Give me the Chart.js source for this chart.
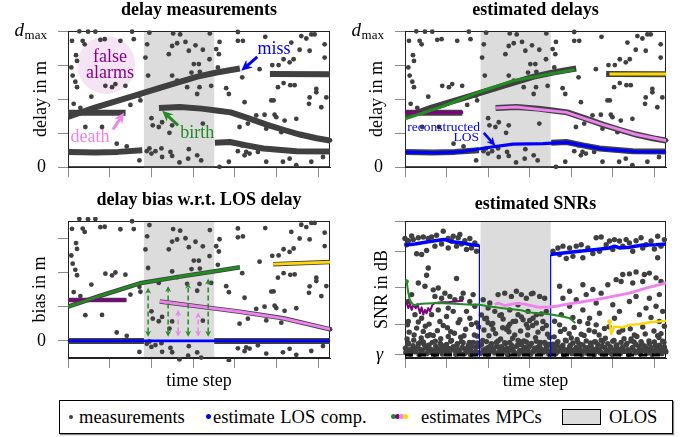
<!DOCTYPE html>
<html><head><meta charset="utf-8">
<script src="https://cdn.jsdelivr.net/npm/chart.js@4"></script>
<style>
html,body{margin:0;padding:0;background:#fff;width:686px;height:437px;overflow:hidden;position:relative;font-family:"Liberation Serif","Times New Roman",serif}
canvas{position:absolute}
#legend{position:absolute;left:59px;top:400px;width:612px;height:32px;border:1px solid #000;box-shadow:1px 1px 1px #888;background:#fff;font-family:"Liberation Serif","Times New Roman",serif;font-size:18.5px;color:#000}
.li{position:absolute;top:0;height:32px;line-height:32px;white-space:nowrap;word-spacing:1px}
.dot{position:absolute;border-radius:50%}
</style></head><body>
<canvas id="cTL" width="343" height="190" style="left:0;top:0"></canvas>
<canvas id="cTR" width="343" height="190" style="left:343px;top:0"></canvas>
<canvas id="cBL" width="343" height="205" style="left:0;top:190px"></canvas>
<canvas id="cBR" width="343" height="205" style="left:343px;top:190px"></canvas>
<div id="legend">
  <span class="dot" style="left:9px;top:14px;width:4px;height:4px;background:#404040"></span>
  <span class="li" style="left:19px">measurements</span>
  <span class="dot" style="left:146px;top:13px;width:5px;height:5px;background:#0000ff"></span>
  <span class="li" style="left:153px">estimate LOS comp.</span>
  <span class="dot" style="left:331px;top:13px;width:5px;height:5px;background:#228b22"></span>
  <span class="dot" style="left:335px;top:13px;width:5px;height:5px;background:#800080"></span>
  <span class="dot" style="left:339px;top:13px;width:5px;height:5px;background:#ee82ee"></span>
  <span class="dot" style="left:343px;top:13px;width:5px;height:5px;background:#ffd700"></span>
  <span class="li" style="left:361px">estimates MPCs</span>
  <span style="position:absolute;left:502px;top:8px;width:37px;height:14px;background:#dcdcdc;border:1px solid #000"></span>
  <span class="li" style="left:549px">OLOS</span>
</div>
<script>
// ---------- data ----------
const timeTicks = [0, 50, 100, 150, 200, 250, 300];
const tMax = 314;
const olosRange = [91, 175.3];
const delayTicks = [0, 1, 2, 3, 4];
const biasTicks = [0, 1, 2, 3];
const gamma = 1.55;
const snrTicks = [gamma, 10, 20, 30, 38.3];

// clutter measurements (time step, delay)
const delayClutter = [
[13.6,3.99],[24,3.98],[32.8,3.98],[4.8,3.71],[17.6,3.71],[20,3.61],[38.8,3.74],[44,3.76],[62.8,3.71],[76.8,3.98],[78.8,3.76],[97.6,3.95],
[9.6,3.29],[10.8,3.12],[4,2.93],[5.6,2.69],[8.8,2.51],[10.8,2.35],[44.8,2.39],[52.8,2.35],[56.8,2.44],[68.8,2.39],[28,2.07],[6.8,1.86],[14.8,1.74],[85.6,2.1],[86.8,1.96],[74.8,1.83],
[94.8,3.61],[92.8,3.22],[96,2.69],[120.8,3.32],[124.8,3.56],[130.8,3.64],[140.8,3.68],[144.8,3.42],[152.8,3.58],[150.8,3.03],[156.8,3.03],[148,2.78],[158,2.8],[124.8,2.69],[130.8,2.54],[142.8,2.35],[154.8,2.15],[108.8,2.3],[126,3.93],[134.4,3.9],[170,3.93],
[100,1.44],[101.6,1.23],[108.8,1.18],[121.6,1.01],[124.8,1.23],[112.8,1.32],[20.8,1.18],[40.8,1.18],
[97.6,0.55],[100,0.4],[104.8,0.47],[112,0.55],[112.8,0.3],[122.8,0.45],[124.8,0.33],[133.6,0.14],[144.8,0.53],[144,0.25],[154.8,0.35],[85.6,0.2],[58.4,0.69],[70.4,0.61],[94.4,0.47],
[203.6,3.97],[236.4,3.83],[203.6,3.71],[209.6,3.71],[181.6,3.68],[161.6,3.45],[177.6,3.47],[180.8,3.32],[169.6,3.17],[179.6,2.93],[229.6,2.88],
[244.8,3.0],[252.4,3.0],[258.4,3.17],[265.6,3.08],[270.4,3.17],[267.6,3.66],[277.6,3.45],[279.6,3.85],[285.6,3.78],[291.6,3.9],[295.6,3.9],[307.6,3.61],[307.6,3.22],[289.6,3.42],
[208.8,2.64],[157.6,2.35],[171.6,2.39],[189.6,2.32],[192.8,2.15],[211.6,1.91],[243.6,1.96],[246.4,1.96],[251.6,2.35],[258.4,2.47],[266.4,2.41],[271.6,2.41],[289.6,2.05],[297.6,2.3],[297.6,2.2],[309.6,2.05],[303.6,1.76],[288.8,1.86],
[225.6,1.52],[235.6,1.54],[247.6,1.54],[249.6,1.47],[259.6,1.37],[273.6,1.42],[205.6,1.18],[215.6,1.28],[237.6,1.13],[255.6,1.03],[161.6,1.28],
[208.8,0.64],[213.6,0.45],[217.6,0.4],[211.6,0.35],[203.6,0.47],[227.6,0.45],[237.6,0.16],[257.6,0.16],[265.6,0.25],[273.6,0.06],[291.6,0.16],[305.6,0.3],[159.6,0.2],[192.8,0.16],[181.6,0.01],[314,0.79]
];

// measurement tracks (dense detections)
const trackRising = [[0,1.48],[33,1.76],[73,2.05],[113,2.35],[155,2.66],[178,2.78],[206,2.9]];
const trackFlat = [[0,1.6],[69,1.6]];
const trackRight = [[242,2.74],[314,2.73]];
const trackBirth = [[109,1.74],[134,1.77],[160,1.72],[180,1.66],[195,1.61],[215,1.45],[238,1.25],[258,1.1],[278,0.96],[298,0.85],[314,0.78]];
const trackLos1 = [[0,0.45],[33,0.43],[60,0.45],[89,0.5]];
const trackLos2 = [[176,0.72],[194,0.74],[214,0.64],[234,0.55],[274,0.47],[314,0.46]];

// estimated delays
const estLos = [[0,0.44],[38,0.42],[70,0.46],[98,0.57],[130,0.68],[166,0.69],[194,0.73],[214,0.64],[238,0.53],[278,0.46],[314,0.45]];
const estGreen = [[0,1.42],[46,1.79],[86,2.18],[130,2.54],[174,2.74],[204,2.86]];
const estPurple = [[0,1.61],[70,1.61]];
const estPink = [[109,1.74],[134,1.77],[194,1.61],[238,1.25],[278,0.96],[314,0.78]];
const estYellow = [[246,2.74],[314,2.74]];

// delay bias w.r.t. LOS delay
const biasGreen = [[0,1.0],[38,1.31],[86,1.68],[138,1.89],[178,2.04],[206,2.15]];
const biasPurple = [[0,1.19],[70,1.19]];
const biasPink = [[110,1.15],[158,1.0],[206,0.85],[258,0.66],[314,0.34]];
const biasYellow = [[246,2.24],[314,2.3]];
const biasLos = [[0,0],[314,0]];
const biasLosMeas1 = [[0,0],[91,0]];
const biasLosMeas2 = [[175.3,0],[314,0]];
const biasArrowsGreen = [[96,0.12,1.55],[120,0.12,1.6],[144,0.12,1.7],[168,0.12,1.82]];
const biasArrowsPink = [[132,0.12,0.9],[156,0.12,0.83]];

// estimated SNRs
const snrLos1 = [[0,31.7],[12,32.0],[28,32.6],[40,33.0],[48,33.2],[56,32.6],[68,32.3],[80,31.8],[89.5,31.6]];
const snrLos2 = [[175.2,29.1],[190,29.5],[210,30.0],[230,30.5],[246,30.9],[252,31.4],[258,30.9],[270,31.1],[286,31.7],[302,31.8],[314,32.0]];
const snrLosDrop1 = [[89.5,31.6],[89.5,-5]];
const snrLosDrop2 = [[175.2,-5],[175.2,29.1]];
const snrGreen = [[2,21.7],[4,18.5],[6,16.5],[10,15.2],[20,15.6],[40,15.8],[60,15.6],[80,15.3],[88,15.4],[100,14.9],[120,14.3],[140,13.8],[150,13.2],[174,12.7],[190,12.1],[198,11.6],[205,10.3]];
const snrPurple = [[2,15.8],[4,14.4],[6,15.5],[8,13.9],[10,15.3],[13,14.4],[15,15.5],[18,13.0],[20,14.6],[22,12.6],[24,13.9],[26,13.0],[28,14.4],[30,13.5],[33,15.3],[36,15.8],[44,16.0],[52,16.0],[60,16.2],[70,16.4]];
const snrPink = [[108,15.3],[112,15.8],[120,15.1],[128,15.5],[136,15.7],[144,15.5],[156,14.9],[162,14.6],[174,14.7],[182,14.9],[190,15.3],[210,16.0],[230,16.7],[250,17.6],[270,18.5],[290,19.9],[314,21.3]];
const snrYellow = [[246,10.7],[248,7.3],[252,9.3],[262,9.1],[270,9.8],[282,10.0],[294,10.5],[314,10.9]];
const snrThreshold = [[0,gamma],[314,gamma]];

const snrClutterLos = [
[0,33.5],[4,32.9],[10,33.2],[16,33.7],[22,33.9],[28,33.5],[32,33.9],[38,34.4],[46,35.5],[52,33.5],[58,34.1],[64,33.7],[68,32.0],[72,32.9],[78,33.5],[84,32.3],[14,29.3],[20,29.1],[52,30.9],[62,31.4],[74,30.5],[2,31.8],[36,31.4],[44,32.0],[80,30.9],[86,30.0],[8,34.2],[26,30.2],[56,32.8],[66,34.6],
[178,30.0],[184,30.9],[190,31.4],[198,30.9],[206,31.4],[212,31.8],[214,28.2],[220,30.9],[230,33.7],[236,33.9],[246,32.8],[252,33.2],[258,32.8],[266,33.2],[270,32.3],[278,32.9],[284,33.7],[290,31.8],[296,32.8],[304,34.1],[308,31.4],[312,33.2],[234,30.0],[250,30.5],[274,30.0],[304,28.2],[202,28.6],[186,29.1],[242,31.8],[262,31.4],[286,30.9],[194,28.0],[226,29.4],[300,30.6]
];
const snrClutterMid = [
[28,25.4],[26,23.4],[62,22.5],[16,21.3],[24,20.4],[34,19.4],[40,19.9],[48,18.5],[70,18.5],[82,18.1],[36,17.6],[44,17.1],[54,17.6],[60,16.7],[68,17.1],[78,16.2],[8,18.1],[4,16.2],[52,14.4],[58,13.5],[74,13.5],[84,14.9],[12,12.6],[20,11.6],[32,12.6],[42,10.7],[50,12.1],[66,11.2],[78,11.6],[86,10.3],[4,10.7],[40,13.9],
[94,16.7],[102,15.8],[112,18.1],[120,18.5],[128,17.6],[134,19.0],[140,18.1],[146,17.1],[152,18.3],[108,13.5],[116,12.6],[126,13.9],[136,12.6],[148,13.5],[98,11.6],[130,10.7],[142,11.2],[154,11.6],[104,9.8],[124,9.3],[136,15.3],[100,14.4],[154,18.5],[162,17.6],[168,17.1],[158,12.6],[166,10.7],[170,13.5],
[262,23.6],[270,23.8],[278,24.3],[288,23.6],[294,24.0],[302,22.7],[254,22.2],[244,20.8],[260,21.7],[274,21.3],[286,21.7],[308,21.7],[186,20.4],[198,19.0],[214,20.8],[226,19.5],[236,18.5],[190,17.1],[206,16.7],[218,18.1],[230,15.8],[250,15.3],[270,16.2],[278,17.6],[294,17.1],[306,18.1],[198,14.9],[214,13.9],[234,13.0],[258,13.5],[290,14.4],[302,14.9],[188,12.6],[222,11.6],[230,9.8],[282,12.6],[310,13.5],[186,9.8],[210,10.7],[306,10.7]
];
const snrClutterLowMid = [
[3,9.8],[11,7.0],[16,10.6],[22,8.0],[29,10.0],[34,6.9],[46,9.6],[55,7.9],[64,10.4],[71,6.8],[80,9.9],[87,6.7],
[92,12.5],[100,10.4],[106,8.6],[118,11.4],[126,10.0],[132,7.0],[140,12.0],[148,9.0],[158,10.3],[164,12.8],[170,9.6],[174,6.4],
[180,10.8],[192,8.6],[202,11.8],[212,7.2],[220,10.2],[228,7.9],[240,8.8],[252,11.6],[262,8.4],[276,7.0],[286,9.2],[296,11.8],[304,6.8],[312,9.4]
];
const snrClutterLow = [
[1,2.2],[3.5,4.5],[5,7.8],[6.5,1.8],[8,3.1],[10.5,5.6],[12,2.4],[14,8.9],[15.5,3.8],[17,1.6],[19.5,6.2],[21,2.9],[23,4.4],[24.5,9.4],[26,1.9],[28.5,3.4],[30,7.1],[31.5,2.2],[33,5.0],[35.5,1.7],[37,3.9],[39,8.2],[41.5,2.6],[43,6.0],[45,1.8],[47.5,4.1],[49,2.9],[51,9.0],[53.5,2.1],[55,5.3],[57,3.3],[59.5,7.5],[61,1.7],[63,4.6],[65.5,2.5],[67,6.4],[69,3.6],[71.5,1.9],[73,8.6],[75,2.8],[77.5,5.0],[79,1.6],[81,3.9],[83.5,7.0],[85,2.3],[87,4.8],[88.5,9.2],
[2.5,5.9],[9,2.7],[18,4.9],[27,6.8],[36,2.5],[44,3.5],[52,6.6],[60,2.8],[68,5.2],[76,3.9],[84,1.9],
[91,2.0],[93.5,5.5],[95,8.4],[97,3.2],[99.5,1.7],[101,6.8],[103,4.0],[105.5,10.2],[107,2.6],[109,7.4],[111.5,3.8],[113,1.9],[115,5.9],[117.5,9.0],[119,2.9],[121,4.7],[123.5,1.6],[125,7.9],[127,3.5],[129.5,6.1],[131,2.2],[133,10.8],[135.5,4.3],[137,1.8],[139,8.1],[141.5,3.0],[143,5.4],[145,2.1],[147.5,7.0],[149,4.0],[151,1.7],[153.5,9.6],[155,2.7],[157,6.3],[159.5,3.6],[161,1.9],[163,5.0],[165.5,8.8],[167,2.4],[169,4.6],[171.5,7.2],[173,1.8],
[96,11.5],[110,5.0],[122,8.6],[138,5.2],[150,11.0],[160,7.8],[172,4.2],[114,12.4],[128,2.9],[146,9.9],
[177,3.3],[179.5,6.5],[181,1.8],[183,4.9],[185.5,2.6],[187,8.0],[189,3.7],[191.5,1.6],[193,5.6],[195,2.9],[197.5,7.4],[199,4.2],[201,1.9],[203.5,9.1],[205,3.1],[207,5.8],[209.5,2.2],[211,4.4],[213,1.7],[215.5,6.9],[217,3.5],[219,2.0],[221.5,8.3],[223,4.8],[225,2.7],[227.5,1.6],[229,5.2],[231,3.3],[233.5,7.0],[235,2.1],[237,4.0],[239.5,1.8],[241,6.1],[243,2.9],[245.5,9.3],[247,3.8],[249,1.7],[251.5,5.5],[253,2.4],[255,4.3],[257.5,7.8],[259,1.9],[261,3.2],[263.5,6.0],[265,2.6],[267,4.7],[269.5,1.6],[271,8.7],[273,3.4],[275.5,5.1],[277,2.1],[279,6.6],[281.5,3.9],[283,1.8],[285,4.6],[287.5,2.8],[289,7.3],[291,2.0],[293.5,5.4],[295,3.1],[297,1.7],[299.5,8.1],[301,4.2],[303,2.5],[305.5,6.3],[307,3.6],[309,1.9],[311.5,5.0],[313,2.8],
[182,4.0],[200,6.2],[218,2.8],[236,5.6],[254,3.1],[272,5.9],[290,3.5],[308,7.4]
];
const snrClutterBand = [
[0.5,3.4],[2,2.6],[4,4.8],[5.5,3.0],[7,2.1],[9.5,4.1],[11,3.3],[13,2.5],[16,4.6],[18.5,3.0],[20,2.3],[22,5.1],[25,3.6],[27.5,2.4],[29,4.3],[32,3.0],[34,2.2],[36.5,5.3],[38,3.5],[40,2.4],[42.5,4.7],[46,3.1],[48,2.2],[50,4.4],[52.5,3.3],[54,2.5],[56,5.5],[58,3.8],[61,2.6],[62.5,4.2],[64,3.0],[66,2.0],[70,4.9],[72,3.2],[74,2.3],[76.5,4.3],[78,3.5],[80,2.5],[82,5.0],[85,3.6],[87,2.2],[89,3.9],
[92,4.4],[94,2.9],[96,2.2],[98,5.2],[100,3.6],[102,2.4],[104,4.6],[106,3.2],[108,2.1],[110,3.9],[112,5.4],[114,2.7],[116,3.8],[118,2.2],[120,4.9],[122,3.3],[124,2.6],[126,5.0],[128,4.2],[130,3.0],[132,2.1],[134,3.9],[136,5.5],[138,2.8],[140,4.4],[142,2.3],[144,3.6],[146,5.1],[148,2.7],[150,3.9],[152,4.7],[154,2.4],[156,3.4],[158,5.3],[160,2.8],[162,4.2],[164,3.1],[166,2.2],[168,5.0],[170,3.5],[172,2.6],[174,4.4],
[176,2.4],[178,4.5],[180,3.0],[182.5,2.2],[184,5.2],[186,3.7],[188,2.6],[190,4.2],[192,3.0],[194,5.4],[196,2.3],[198,3.8],[200,2.9],[202,4.8],[204,2.2],[206,3.6],[208,5.0],[210,3.2],[212,2.4],[214,4.3],[216,2.9],[218,5.4],[220,3.5],[222,2.3],[224,4.0],[226,3.1],[228,5.1],[230,2.5],[232,4.4],[234,3.0],[236,2.2],[238,5.2],[240,3.6],[242,2.6],[244,4.6],[246,2.2],[248,3.4],[250,5.3],[252,2.8],[254,4.1],[256,3.2],[258,2.3],[260,5.0],[262,3.7],[264,2.5],[266,4.3],[268,3.0],[270,2.2],[272,5.4],[274,3.6],[276,2.7],[278,4.4],[280,2.4],[282,3.3],[284,5.2],[286,2.8],[288,4.0],[290,3.1],[292,2.2],[294,4.7],[296,3.5],[298,2.5],[300,5.1],[302,3.3],[304,2.3],[306,4.2],[308,2.9],[310,5.3],[312,3.7],[314,2.4]
];

// ---------- helpers ----------
const FAMILY = '"Liberation Serif","Times New Roman",serif';
const C = {dark:'#404040', blue:'#0000ff', green:'#228b22', purple:'#800080', pink:'#ee82ee', yellow:'#ffd700'};
Chart.defaults.font.family = FAMILY;
Chart.defaults.color = '#000';

const pts = arr => arr.map(([x, y]) => ({x, y}));
function losAt(t) {
  for (let i = 1; i < estLos.length; i++) {
    const [t0, d0] = estLos[i - 1], [t1, d1] = estLos[i];
    if (t <= t1) return d0 + (d1 - d0) * (t - t0) / (t1 - t0);
  }
  return estLos[estLos.length - 1][1];
}
const biasClutter = delayClutter.map(([t, d]) => [t, d - losAt(t)]);

function line(data, color, width, order, extra) {
  return Object.assign({type:'line', data:pts(data), borderColor:color, borderWidth:width, pointRadius:0,
    fill:false, tension:0, order, borderCapStyle:'butt', borderJoinStyle:'round'}, extra || {});
}
function dots(data, order, r) {
  return {type:'scatter', data:pts(data), pointRadius:r || 2.4, pointBackgroundColor:C.dark, pointBorderWidth:0,
    pointHoverRadius:0, order, clip:4};
}

function drawHead(ctx, x, y, ang, hl, hw) {
  const c = Math.cos(ang), s = Math.sin(ang);
  ctx.beginPath();
  ctx.moveTo(x, y);
  ctx.lineTo(x - hl * c + hw / 2 * s, y - hl * s - hw / 2 * c);
  ctx.lineTo(x - 0.7 * hl * c, y - 0.7 * hl * s);
  ctx.lineTo(x - hl * c - hw / 2 * s, y - hl * s + hw / 2 * c);
  ctx.closePath();
  ctx.fill();
}
function drawArrow(ctx, x0, y0, x1, y1, o) {
  const ang = Math.atan2(y1 - y0, x1 - x0), c = Math.cos(ang), s = Math.sin(ang);
  ctx.strokeStyle = o.color; ctx.fillStyle = o.color; ctx.lineWidth = o.lw;
  ctx.setLineDash(o.dash || []);
  const sx = o.both ? x0 + c * o.hl * 0.7 : x0, sy = o.both ? y0 + s * o.hl * 0.7 : y0;
  ctx.beginPath(); ctx.moveTo(sx, sy); ctx.lineTo(x1 - c * o.hl * 0.7, y1 - s * o.hl * 0.7); ctx.stroke();
  ctx.setLineDash([]);
  drawHead(ctx, x1, y1, ang, o.hl, o.hw);
  if (o.both) drawHead(ctx, x0, y0, ang + Math.PI, o.hl, o.hw);
}

function decoPlugin(cfg) {
  return {
    id: 'deco',
    beforeDatasetsDraw(chart) {
      const {ctx, chartArea: a, scales: {x, y}} = chart;
      ctx.save();
      if (cfg.olos) {
        const x0 = x.getPixelForValue(cfg.olos[0]), x1 = x.getPixelForValue(cfg.olos[1]);
        ctx.fillStyle = '#dcdcdc';
        ctx.fillRect(x0, a.top, x1 - x0, a.bottom - a.top);
      }
      (cfg.circles || []).forEach(c => {
        ctx.beginPath();
        ctx.arc(x.getPixelForValue(c.x), y.getPixelForValue(c.y), c.r, 0, 2 * Math.PI);
        ctx.fillStyle = c.color; ctx.fill();
      });
      ctx.strokeStyle = '#222'; ctx.lineWidth = 1;
      ctx.strokeRect(a.left + 0.5, a.top + 0.5, a.right - a.left - 1, a.bottom - a.top - 1);
      ctx.restore();
    },
    afterDatasetsDraw(chart) {
      const {ctx, scales: {x, y}} = chart;
      ctx.save();
      (cfg.arrows || []).forEach(ar => {
        drawArrow(ctx, x.getPixelForValue(ar.from[0]), y.getPixelForValue(ar.from[1]),
          x.getPixelForValue(ar.to[0]), y.getPixelForValue(ar.to[1]), ar);
      });
      (cfg.vArrows || []).forEach(g => {
        g.data.forEach(([t, y0, y1]) => {
          const px = x.getPixelForValue(t);
          drawArrow(ctx, px, y.getPixelForValue(y0), px, y.getPixelForValue(y1), g);
        });
      });
      (cfg.texts || []).forEach(tx => {
        ctx.font = (tx.style ? tx.style + ' ' : '') + tx.size + 'px ' + FAMILY;
        ctx.fillStyle = tx.color; ctx.textAlign = tx.align || 'center'; ctx.textBaseline = 'middle';
        ctx.fillText(tx.text, x.getPixelForValue(tx.x), y.getPixelForValue(tx.y));
      });
      ctx.restore();
    },
    afterDraw(chart) {
      if (cfg.dmax === undefined) return;
      const {ctx, chartArea: a, scales: {y}} = chart;
      const yy = y.getPixelForValue(cfg.dmax), xr = a.left - 21;
      ctx.save();
      ctx.fillStyle = '#000'; ctx.textAlign = 'right'; ctx.textBaseline = 'alphabetic';
      ctx.font = '13px ' + FAMILY;
      ctx.fillText('max', xr, yy + 8);
      const w = ctx.measureText('max').width;
      ctx.font = 'italic 19px ' + FAMILY;
      ctx.fillText('d', xr - w - 0.5, yy + 5);
      ctx.restore();
    }
  };
}

function makeChart(id, o) {
  const gridOpts = {drawOnChartArea:false, drawTicks:true, tickLength:10, color:'#8c8c8c', lineWidth:1};
  return new Chart(document.getElementById(id), {
    type: 'scatter',
    data: {datasets: o.datasets},
    plugins: [decoPlugin(o.deco)],
    options: {
      responsive:false, animation:false, events:[],
      layout:{padding:{left:0, right:o.padRight, top:0, bottom:0}},
      plugins:{
        legend:{display:false}, tooltip:{enabled:false},
        title:{display:true, text:o.title, fullSize:false, color:'#000',
          font:{size:18, weight:'bold'}, padding:{top:o.titleTop, bottom:9.4 - o.titleTop}}
      },
      scales:{
        x:{type:'linear', min:0, max:tMax,
          afterBuildTicks: s => { s.ticks = timeTicks.map(v => ({value:v})); },
          ticks:{display:false}, grid:gridOpts, border:{display:true, color:'#222'},
          title:{display:!!o.xTitle, text:o.xTitle || '', color:'#000', font:{size:18}, padding:{top:0, bottom:2.5}},
          afterFit: s => { s.height = o.xH; }},
        y:{type:'linear', min:o.yMin, max:o.yMax,
          afterBuildTicks: s => { s.ticks = o.yTicks.map(v => ({value:v})); },
          ticks:{autoSkip:false, padding:12, color:'#000', font:{size:18, style:o.tickStyle || 'normal'}, callback:o.tickCb},
          grid:gridOpts, border:{display:true, color:'#222'},
          title:{display:true, text:o.yTitle, color:'#000', font:{size:18}, padding:{top:o.yTitlePad, bottom:0}},
          afterFit: s => { s.width = o.yW; }}
      }
    }
  });
}

const zeroLabel = v => (Math.abs(v) < 1e-9 ? '0' : '');
const trackSets = (order) => [
  line(trackRising, C.dark, 6, order), line(trackFlat, C.dark, 6, order), line(trackRight, C.dark, 6, order),
  line(trackBirth, C.dark, 6, order), line(trackLos1, C.dark, 6, order), line(trackLos2, C.dark, 6, order)
];

// ---------- top-left: delay measurements ----------
makeChart('cTL', {
  title:'delay measurements', titleTop:0, padRight:13, xH:22, yW:68, yTitlePad:30,
  yMin:0, yMax:4, yTicks:delayTicks, tickCb:zeroLabel, yTitle:'delay in m',
  datasets:[dots(delayClutter, 10), ...trackSets(9)],
  deco:{olos:olosRange, dmax:4,
    circles:[{x:46, y:3.0, r:29, color:'rgba(200,120,200,0.2)'}],
    arrows:[
      {from:[226.8,3.24], to:[207.6,2.83], color:C.blue, lw:3, hl:11, hw:10},
      {from:[132,1.23], to:[112.8,1.66], color:C.green, lw:3, hl:11, hw:10},
      {from:[54,1.11], to:[67.2,1.61], color:C.pink, lw:3, hl:11, hw:10}
    ],
    texts:[
      {text:'false', x:50.4, y:3.23, size:18, color:'#8b008b'},
      {text:'alarms', x:50.4, y:2.77, size:18, color:'#8b008b'},
      {text:'miss', x:247, y:3.45, size:18, color:C.blue},
      {text:'birth', x:154.8, y:1.0, size:18, color:C.green},
      {text:'death', x:26.4, y:0.88, size:18, color:C.pink}
    ]}
});

// ---------- top-right: estimated delays ----------
makeChart('cTR', {
  title:'estimated delays', titleTop:0, padRight:20, xH:22, yW:62, yTitlePad:23,
  yMin:0, yMax:4, yTicks:delayTicks, tickCb:zeroLabel, yTitle:'delay in m',
  datasets:[dots(delayClutter, 10), ...trackSets(9),
    line(estLos, C.blue, 3.2, 2), line(estGreen, C.green, 3, 2), line(estPurple, C.purple, 3, 2),
    line(estPink, C.pink, 3, 2), line(estYellow, C.yellow, 3, 2)],
  deco:{olos:olosRange, dmax:4,
    arrows:[{from:[94.8,1.01], to:[108.8,0.62], color:C.blue, lw:2.5, hl:9, hw:8}],
    texts:[
      {text:'reconstructed', x:46.4, y:1.16, size:13.5, color:C.blue},
      {text:'LOS', x:73.6, y:0.87, size:13.5, color:C.blue}
    ]}
});

// ---------- bottom-left: delay bias ----------
makeChart('cBL', {
  title:'delay bias w.r.t. LOS delay', titleTop:0, padRight:13, xH:37, yW:68, yTitlePad:29,
  xTitle:'time step', yMin:-0.5, yMax:3.5, yTicks:biasTicks, tickCb:zeroLabel, yTitle:'bias in m',
  datasets:[dots(biasClutter, 10),
    line(biasLosMeas1, C.dark, 6, 9), line(biasLosMeas2, C.dark, 6, 9),
    line(biasGreen, C.dark, 4.5, 8), line(biasPurple, C.dark, 4.5, 8), line(biasPink, C.dark, 4.5, 8), line(biasYellow, C.dark, 4.5, 8),
    line(biasLos, C.blue, 2.6, 2), line(biasGreen, C.green, 2.8, 2), line(biasPurple, C.purple, 2.8, 2),
    line(biasPink, C.pink, 2.8, 2), line(biasYellow, C.yellow, 2.8, 2)],
  deco:{olos:olosRange,
    vArrows:[
      {data:biasArrowsGreen, color:C.green, lw:1.5, hl:6, hw:6, dash:[5,3], both:true},
      {data:biasArrowsPink, color:C.pink, lw:1.5, hl:6, hw:6, dash:[5,3], both:true}
    ]}
});

// ---------- bottom-right: estimated SNRs ----------
makeChart('cBR', {
  title:'estimated SNRs', titleTop:4, padRight:20, xH:37, yW:62, yTitlePad:28,
  xTitle:'time step', yMin:0.7, yMax:38.3, yTicks:snrTicks, tickStyle:'italic',
  tickCb: v => (Math.abs(v - gamma) < 1e-6 ? 'γ' : ''), yTitle:'SNR in dB',
  datasets:[dots(snrClutterBand, 10, 2.7), dots(snrClutterLow, 10, 2.7), dots(snrClutterLowMid, 10, 2.7),
    dots(snrClutterMid, 10, 2.7), dots(snrClutterLos, 10, 2.7),
    line(snrThreshold, '#000', 3, 3, {borderDash:[8,5]}),
    line(snrLosDrop1, C.blue, 1.2, 2), line(snrLosDrop2, C.blue, 1.2, 2),
    line(snrLos1, C.blue, 3.5, 1), line(snrLos2, C.blue, 3.5, 1),
    line(snrGreen, C.green, 2, 1, {pointRadius:snrGreen.map((p, i) => i === 0 ? 2.2 : 0), pointBackgroundColor:C.green, pointBorderWidth:0}),
    line(snrPurple, C.purple, 2, 1),
    line(snrPink, C.pink, 2.8, 1),
    line(snrYellow, C.yellow, 2.4, 1, {pointRadius:snrYellow.map((p, i) => i === 0 ? 2.2 : 0), pointBackgroundColor:C.yellow, pointBorderWidth:0})],
  deco:{olos:olosRange}
});
</script>
</body></html>
